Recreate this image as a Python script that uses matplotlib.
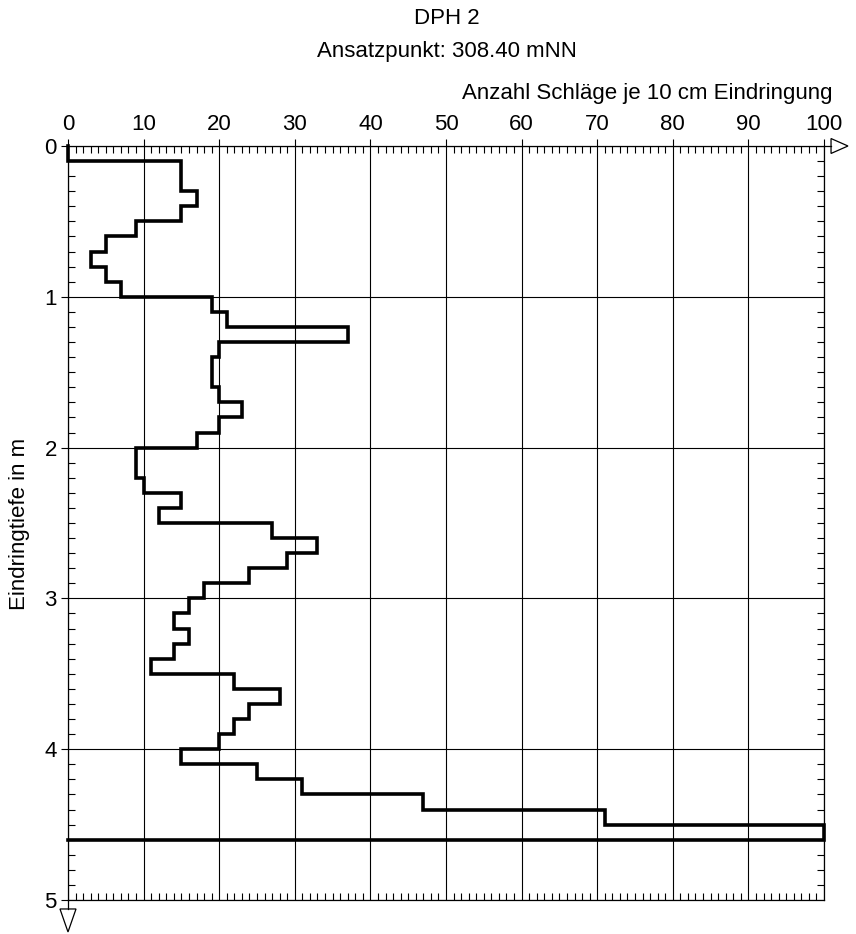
import numpy as np
import matplotlib
matplotlib.use("Agg")
from matplotlib import pyplot as plt
from matplotlib.ticker import MultipleLocator

plt.rcParams['font.family'] = ['Liberation Sans', 'DejaVu Sans']

# Schlagzahlen je 10 cm, beginnend bei 0.0 m
depth_step = 0.1
blows = [0, 15, 15, 17, 15, 9, 5, 3, 5, 7,
         19, 21, 37, 20, 19, 19, 20, 23, 20, 17,
         9, 9, 10, 15, 12, 27, 33, 29, 24, 18,
         16, 14, 16, 14, 11, 22, 28, 24, 22, 20,
         15, 25, 31, 47, 71, 100]
title = "DPH 2"
subtitle = "Ansatzpunkt: 308.40 mNN"
xlabel = "Anzahl Schläge je 10 cm Eindringung"
ylabel = "Eindringtiefe in m"

W, H = 856, 934
fig = plt.figure(figsize=(W / 100, H / 100), dpi=100)
ax = fig.add_axes([68 / W, 1 - 900 / H, 756 / W, 754 / H])

# step path: vertical at each value over its 10 cm, then back to 0 at the end
vals = np.array(blows, dtype=float)
tops = np.arange(len(vals)) * depth_step
bots = tops + depth_step
xs = np.append(np.repeat(vals, 2), 0)
ys = np.append(np.column_stack([tops, bots]).ravel(), bots[-1])
ax.plot(xs, ys, color='black', lw=2.6, solid_joinstyle='miter', clip_on=False, zorder=5)

ax.set_xlim(0, 100)
ax.set_ylim(5, 0)
ax.xaxis.tick_top()
ax.xaxis.set_major_locator(MultipleLocator(10))
ax.xaxis.set_minor_locator(MultipleLocator(1))
ax.yaxis.set_major_locator(MultipleLocator(1))
ax.yaxis.set_minor_locator(MultipleLocator(0.1))
ax.grid(True, which='major', color='black', lw=0.8)

ax.tick_params(which='minor', direction='in', length=5, width=0.8,
               top=True, bottom=True, left=True, right=True)
ax.tick_params(which='major', direction='out', length=5, width=0.8,
               top=True, bottom=False, left=True, right=False,
               labeltop=True, labelbottom=False, labelsize=16, pad=3)
for s in ax.spines.values():
    s.set_linewidth(0.9)

# axis extensions with open arrow heads
kw = dict(transform=ax.transAxes, clip_on=False, color='black', lw=0.9)
ax.plot([1.0, 1.0093], [1.0, 1.0], **kw)
ax.fill([1.0093, 1.0317, 1.0093, 1.0093], [1.0099, 1.0, 0.9901, 1.0099],
        facecolor='white', edgecolor='black', lw=0.9, transform=ax.transAxes, clip_on=False)
ax.plot([0.0, 0.0], [0.0, -0.0119], **kw)
ax.fill([-0.0106, 0.0106, 0.0, -0.0106], [-0.0119, -0.0119, -0.0424, -0.0119],
        facecolor='white', edgecolor='black', lw=0.9, transform=ax.transAxes, clip_on=False)

fig.text(447 / W, 1 - 18 / H, title, ha='center', va='center', fontsize=16)
fig.text(447 / W, 1 - 52 / H, subtitle, ha='center', va='center', fontsize=16)
fig.text(833 / W, 1 - 93 / H, xlabel, ha='right', va='center', fontsize=16)
fig.text(20 / W, 1 - 524 / H, ylabel, ha='center', va='center', rotation=90, fontsize=16)

fig.savefig("out.png", dpi=100)
